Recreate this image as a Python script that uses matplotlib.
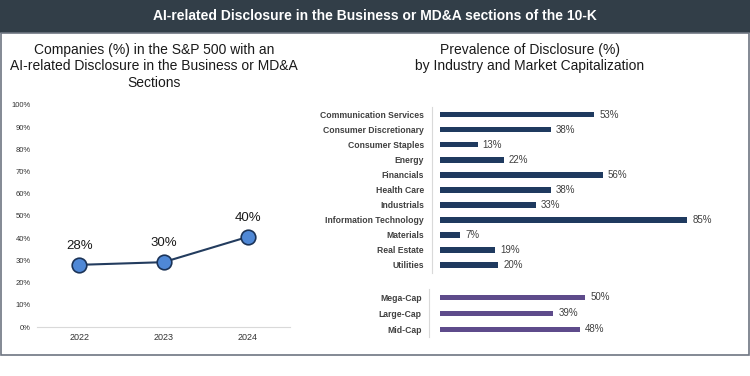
import matplotlib
matplotlib.use("Agg")
import matplotlib.pyplot as plt
from matplotlib.patches import Rectangle

plt.rcParams['font.family'] = ['Liberation Sans', 'DejaVu Sans']

years = ["2022", "2023", "2024"]
share = [28, 29.2, 40.6]
share_labels = ["28%", "30%", "40%"]
yticks = list(range(0, 101, 10))

industries = ["Communication Services", "Consumer Discretionary", "Consumer Staples",
              "Energy", "Financials", "Health Care", "Industrials",
              "Information Technology", "Materials", "Real Estate", "Utilities"]
ind_vals = [53, 38, 13, 22, 56, 38, 33, 85, 7, 19, 20]
caps = ["Mega-Cap", "Large-Cap", "Mid-Cap"]
cap_vals = [50, 39, 48]

W, H = 750, 376
fig = plt.figure(figsize=(7.5, 3.76), dpi=100)
fig.patch.set_facecolor("white")

# header band and border
fig.add_artist(Rectangle((0, 1 - 33 / H), 1, 33 / H, transform=fig.transFigure,
                         facecolor="#323E48", edgecolor="none"))
fig.add_artist(Rectangle((1 / W, 1 - 355 / H), 748 / W, (355 - 33) / H,
                         transform=fig.transFigure, facecolor="none",
                         edgecolor="#6E7681", linewidth=1.2))
fig.text(0.5, 1 - 16.5 / H, "AI-related Disclosure in the Business or MD&A sections of the 10-K",
         color="white", fontsize=10, fontweight="bold", ha="center", va="center")

# left chart
fig.text(154 / W, 1 - 43 / H,
         "Companies (%) in the S&P 500 with an\nAI-related Disclosure in the Business or MD&A\nSections",
         ha="center", va="top", fontsize=10, color="#1a1a1a", linespacing=1.22)
ax = fig.add_axes([37 / W, (H - 327) / H, 253 / W, 222 / H])
x = list(range(len(years)))
ax.plot(x, share, color="#233C5E", linewidth=1.5, marker="o", markersize=10.5,
        markerfacecolor="#4F88D6", markeredgecolor="#1B3357", markeredgewidth=1.2, zorder=3)
for xi, v, lab in zip(x, share, share_labels):
    ax.text(xi, v + 6, lab, ha="center", va="bottom", fontsize=9.5, color="#1a1a1a")
ax.set_xlim(-0.5, 2.5)
ax.set_ylim(0, 100)
ax.set_yticks(yticks)
ax.set_yticklabels([f"{t}%" for t in yticks], fontsize=5.5, color="#333333")
ax.set_xticks(x)
ax.set_xticklabels(years, fontsize=6.5, color="#333333")
for s in ["top", "right", "left"]:
    ax.spines[s].set_visible(False)
ax.spines["bottom"].set_color("#D9D9D9")
ax.tick_params(axis="y", length=0, pad=4.3)
ax.tick_params(axis="x", length=0, pad=4.5)

# right title
fig.text(530 / W, 1 - 43 / H, "Prevalence of Disclosure (%)\nby Industry and Market Capitalization",
         ha="center", va="top", fontsize=10, color="#1a1a1a", linespacing=1.22)

# industry bars
ax2 = fig.add_axes([432 / W, (H - 272.5) / H, (731 - 432) / W, 165.3 / H])
yi = list(range(len(industries)))
ax2.barh(yi, ind_vals, height=0.36, color="#1F3A5F")
for y, v in zip(yi, ind_vals):
    ax2.text(v + 1.7, y, f"{v}%", va="center", ha="left", fontsize=7, color="#404040")
ax2.set_ylim(len(industries) - 0.5, -0.5)
ax2.set_xlim(-2.75, 100)
ax2.set_yticks(yi)
ax2.set_yticklabels(industries, fontsize=6.2, fontweight="bold", color="#404040")
ax2.set_xticks([])
ax2.tick_params(length=0, pad=5.8)

# cap bars
ax3 = fig.add_axes([429.3 / W, (H - 337.3) / H, (731 - 429.3) / W, 48 / H])
yc = list(range(len(caps)))
ax3.barh(yc, cap_vals, height=0.33, color="#5E4B8B")
for y, v in zip(yc, cap_vals):
    ax3.text(v + 1.7, y, f"{v}%", va="center", ha="left", fontsize=7, color="#404040")
ax3.set_ylim(len(caps) - 0.5, -0.5)
ax3.set_xlim(-3.67, 100)
ax3.set_yticks(yc)
ax3.set_yticklabels(caps, fontsize=6.2, fontweight="bold", color="#404040")
ax3.set_xticks([])
ax3.tick_params(length=0, pad=5.5)

for a in (ax2, ax3):
    for s in ["top", "right", "bottom"]:
        a.spines[s].set_visible(False)
    a.spines["left"].set_color("#D9D9D9")
    a.patch.set_alpha(0)

fig.savefig("out.png", dpi=100)
